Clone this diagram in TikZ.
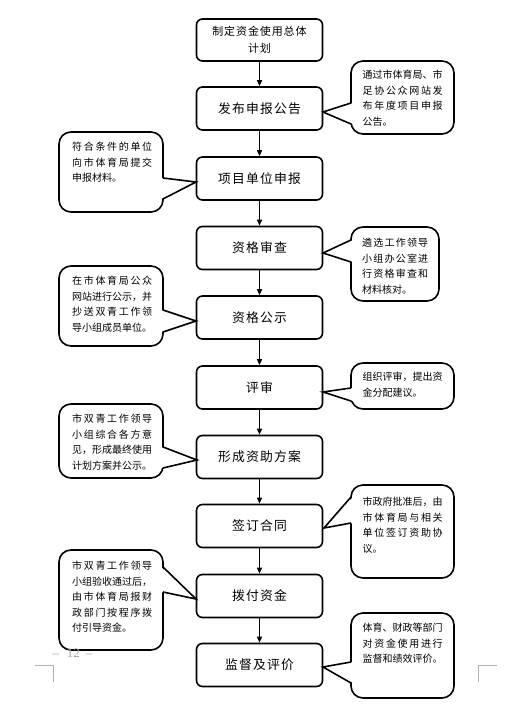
\documentclass[tikz,border=0pt]{standalone}
\usepackage{fontspec}
\setmainfont{Noto Sans CJK SC}
\newfontfamily\pgfont{Liberation Serif}
\usetikzlibrary{arrows.meta}
\let\chend\relax
\def\chsep{}
\def\chloop#1#2{#1\ifx#2\chend\else\chsep\expandafter\chloop\expandafter#2\fi}
\newcommand\cjust[1]{\hbox to 80pt{\def\chsep{\hfil}\chloop#1\chend}}
\newcommand\cjustw[2]{\hbox to #1{\def\chsep{\hfil}\chloop#2\chend}}
\newcommand\cplain[1]{\hbox{#1}}
\newcommand\cspaced[2]{\hbox{\def\chsep{\kern#1}\chloop#2\chend}}
\newcommand\spike[6]{%
  \fill[white] (#1+#6,#2) -- (#4,#5) -- (#1+#6,#3) -- cycle;
  \draw[cline] (#1,#2) -- (#4,#5) -- (#1,#3);}
\begin{document}
\begin{tikzpicture}[x=1pt,y=-1pt,
  stepbox/.style={draw, line width=1.6pt, rounded corners=6pt, fill=white,
    minimum width=126pt, minimum height=43pt, inner sep=0pt,
    font=\fontsize{12.8}{15}\selectfont},
  arr/.style={line width=1.4pt, -{Triangle[length=6pt,width=5pt]}},
  cbox/.style={draw, line width=1.6pt, rounded corners=12pt, fill=white, inner sep=0pt},
  cline/.style={line width=1.6pt, line join=miter},
  ctext/.style={inner sep=0pt, anchor=base west, font=\fontsize{10}{15.5}\selectfont},
  cropline/.style={draw=black!30, line width=0.8pt}]
\useasboundingbox[fill=white] (0,0) rectangle (507,711);

% main flow
\node[stepbox, minimum height=42pt, align=center, font=\fontsize{11}{17}\selectfont] (b1) at (259.5,40)
  {\cspaced{0.9pt}{制定资金使用总体}\\\cspaced{0.9pt}{计划}};
\node[stepbox] (b2) at (259.5,108.5) {\cspaced{1.2pt}{发布申报公告}};
\node[stepbox] (b3) at (259.5,178.5) {\cspaced{1.2pt}{项目单位申报}};
\node[stepbox] (b4) at (259.5,248) {\cspaced{1.2pt}{资格审查}};
\node[stepbox] (b5) at (259.5,317.5) {\cspaced{1.2pt}{资格公示}};
\node[stepbox] (b6) at (259.5,387.5) {\cspaced{1.2pt}{评审}};
\node[stepbox] (b7) at (259.5,457) {\cspaced{1.2pt}{形成资助方案}};
\node[stepbox] (b8) at (259.5,526) {\cspaced{1.2pt}{签订合同}};
\node[stepbox] (b9) at (259.5,596) {\cspaced{1.2pt}{拨付资金}};
\node[stepbox] (b10) at (259.5,665) {\cspaced{1.2pt}{监督及评价}};

\draw[arr] (b1) -- (b2);
\draw[arr] (b2) -- (b3);
\draw[arr] (b3) -- (b4);
\draw[arr] (b4) -- (b5);
\draw[arr] (b5) -- (b6);
\draw[arr] (b6) -- (b7);
\draw[arr] (b7) -- (b8);
\draw[arr] (b8) -- (b9);
\draw[arr] (b9) -- (b10);

% callout bodies
\node[cbox, minimum width=103pt, minimum height=73pt] (r1) at (402.5,97.5) {};
\node[cbox, minimum width=104pt, minimum height=80pt] (l1) at (111,172) {};
\node[cbox, minimum width=88pt, minimum height=74pt] (r2) at (395,264) {};
\node[cbox, minimum width=104pt, minimum height=80pt] (l2) at (111,306) {};
\node[cbox, minimum width=103pt, minimum height=46pt] (r3) at (402.5,386) {};
\node[cbox, minimum width=104pt, minimum height=74pt] (l3) at (111,441) {};
\node[cbox, minimum width=103pt, minimum height=93pt] (r4) at (402.5,531.5) {};
\node[cbox, minimum width=104pt, minimum height=100pt] (l4) at (111,600) {};
\node[cbox, minimum width=103pt, minimum height=85pt] (r5) at (402.5,655.5) {};

% pointers
\spike{351}{103}{124}{323}{112}{2}
\spike{163}{178}{199}{196}{182}{-2}
\spike{351}{240}{262}{323}{253}{2}
\spike{163}{310}{332}{196}{321}{-2}
\spike{351}{388}{401}{323}{392}{2}
\spike{163}{447}{468}{197}{460}{-2}
\spike{351}{497}{523}{324}{528}{2}
\spike{163}{567}{592}{196}{599}{-2}
\spike{351}{662}{683}{323}{667}{2}

% callout texts
\node[ctext] (t1) at (362.5,78.8) {\vtop{\cjust{通过市体育局、市}\cjust{足协公众网站发}\cjust{布年度项目申报}\cplain{公告。}}};
\node[ctext] (t2) at (72,150.8) {\vtop{\cjust{符合条件的单位}\cjust{向市体育局提交}\cplain{申报材料。}}};
\node[ctext] (t3) at (362,246.8) {\vtop{\cjustw{66pt}{遴选工作领导}\cjustw{66pt}{小组办公室进}\cjustw{66pt}{行资格审查和}\cplain{材料核对。}}};
\node[ctext] (t4) at (72,284.8) {\vtop{\cjust{在市体育局公众}\cjust{网站进行公示，并}\cjust{抄送双青工作领}\cjust{导小组成员单位。}}};
\node[ctext] (t5) at (362.5,380.8) {\vtop{\cjust{组织评审，提出资}\cplain{金分配建议。}}};
\node[ctext] (t6) at (72,422.8) {\vtop{\cjust{市双青工作领导}\cjust{小组综合各方意}\cjust{见，形成最终使用}\cjust{计划方案并公示。}}};
\node[ctext] (t7) at (362.5,505.8) {\vtop{\cjust{市政府批准后，由}\cjust{市体育局与相关}\cjust{单位签订资助协}\cplain{议。}}};
\node[ctext] (t8) at (72,569.8) {\vtop{\cjust{市双青工作领导}\cjust{小组验收通过后，}\cjust{由市体育局报财}\cjust{政部门按程序拨}\cplain{付引导资金。}}};
\node[ctext] (t9) at (362.5,631.8) {\vtop{\cjust{体育、财政等部门}\cjust{对资金使用进行}\cjust{监督和绩效评价。}}};

% page footer
\node[inner sep=0pt, text=black!35, font=\pgfont\fontsize{13}{13}\selectfont] (pg) at (72.5,653) {–\hspace{8pt}12\hspace{6pt}–};
\coordinate (cmL1) at (35,665);
\coordinate (cmL2) at (53,665);
\coordinate (cmL3) at (53,682);
\coordinate (cmR1) at (497,665);
\coordinate (cmR2) at (478,665);
\coordinate (cmR3) at (478,682);
\draw[cropline] (cmL1) -- (cmL2) -- (cmL3);
\draw[cropline] (cmR1) -- (cmR2) -- (cmR3);
\end{tikzpicture}
\end{document}
